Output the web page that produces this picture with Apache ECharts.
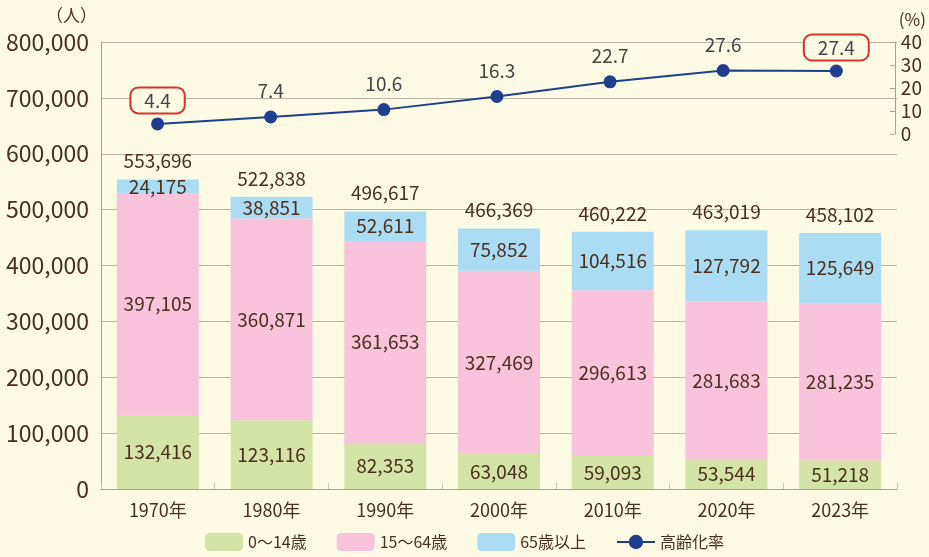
<!DOCTYPE html>
<html><head><meta charset="utf-8">
<script src="https://cdn.jsdelivr.net/npm/echarts@6/dist/echarts.min.js"></script>
<style>html,body{margin:0;padding:0;background:#fdfbe4;}#c{width:929px;height:557px;}</style>
</head><body><div id="c"></div>
<script>
const categories = ['1970年','1980年','1990年','2000年','2010年','2020年','2023年'];
const age0to14 = [132416,123116,82353,63048,59093,53544,51218];
const age15to64 = [397105,360871,361653,327469,296613,281683,281235];
const age65plus = [24175,38851,52611,75852,104516,127792,125649];
const totals = [553696,522838,496617,466369,460222,463019,458102];
const agingRate = [4.4,7.4,10.6,16.3,22.7,27.6,27.4];
const highlighted = [0,6];

const FONT = '"Noto Sans CJK JP", "Noto Sans", sans-serif';
const BROWN = '#4a2f1e';
const fmt = v => Number(v).toLocaleString('en-US');

const chart = echarts.init(document.getElementById('c'));
const lbl = {show:true, position:'inside', color:BROWN, fontSize:19, fontFamily:FONT, formatter:p=>fmt(p.value)};
chart.setOption({
  backgroundColor:'#fdfbe4',
  animation:false,
  textStyle:{fontFamily:FONT},
  grid:[
    {left:101, right:32, top:42, bottom:68},
    {left:101, right:32, top:42, height:92}
  ],
  legend:{
    data:['0～14歳','15～64歳','65歳以上','高齢化率'],
    top:528, left:'center', itemWidth:38, itemHeight:18, itemGap:30,
    textStyle:{color:BROWN, fontSize:16, fontFamily:FONT}
  },
  xAxis:[
    {type:'category', gridIndex:0, data:categories,
     axisLine:{lineStyle:{color:'#a8a390'}},
     axisTick:{show:true, inside:true, length:6, lineStyle:{color:'#c9c5b5'}},
     axisLabel:{color:BROWN, fontSize:18, margin:12, fontFamily:FONT}},
    {type:'category', gridIndex:1, data:categories, show:false}
  ],
  yAxis:[
    {type:'value', gridIndex:0, min:0, max:800000, interval:100000,
     name:'（人）', nameLocation:'end', nameGap:18,
     nameTextStyle:{color:BROWN, fontSize:17, align:'right', padding:[0,4,0,0], fontFamily:FONT},
     axisLine:{show:true, lineStyle:{color:'#a8a390'}},
     axisTick:{show:false},
     splitLine:{lineStyle:{color:'#b9b4a2', width:1}},
     axisLabel:{color:BROWN, fontSize:23, margin:12, formatter:fmt, fontFamily:FONT}},
    {type:'value', gridIndex:1, position:'right', offset:2, min:0, max:40, interval:10,
     name:'(%)', nameLocation:'end', nameGap:14,
     nameTextStyle:{color:BROWN, fontSize:17, align:'left', padding:[0,0,0,4], fontFamily:FONT},
     axisLine:{show:true, lineStyle:{color:'#a8a390'}},
     axisTick:{show:true, inside:true, length:5, lineStyle:{color:'#a8a390'}},
     splitLine:{show:false},
     axisLabel:{color:BROWN, fontSize:19, margin:6, fontFamily:FONT}}
  ],
  series:[
    {name:'0～14歳', type:'bar', stack:'p', xAxisIndex:0, yAxisIndex:0, barWidth:82,
     data:age0to14, itemStyle:{color:'#d4e3a7'}, label:lbl},
    {name:'15～64歳', type:'bar', stack:'p', xAxisIndex:0, yAxisIndex:0, barWidth:82,
     data:age15to64, itemStyle:{color:'#f8c3db'}, label:lbl},
    {name:'65歳以上', type:'bar', stack:'p', xAxisIndex:0, yAxisIndex:0, barWidth:82,
     data:age65plus, itemStyle:{color:'#abdcf3'}, label:lbl},
    {name:'total', type:'bar', stack:'p', xAxisIndex:0, yAxisIndex:0, barWidth:82,
     data:totals.map(()=>0), itemStyle:{color:'transparent'},
     label:{show:true, position:'top', distance:9, color:BROWN, fontSize:19, fontFamily:FONT,
            formatter:p=>fmt(totals[p.dataIndex])}},
    {name:'高齢化率', type:'line', xAxisIndex:1, yAxisIndex:1,
     symbol:'circle', symbolSize:13,
     lineStyle:{color:'#1f3f8e', width:2}, itemStyle:{color:'#1f3f8e'},
     data:agingRate.map((v,i)=> highlighted.includes(i) ? {
        value:v,
        label:{show:true, position:'top', distance:5, color:'#454545', fontSize:19,
               borderColor:'#d9342b', borderWidth:2, borderRadius:7,
               padding:[3,13,2,13], backgroundColor:'#fdfbe4'}
     } : v),
     label:{show:true, position:'top', distance:10, color:'#454545', fontSize:19, fontFamily:FONT,
            formatter:p=>p.value.toFixed(1)},
     z:5}
  ]
});
</script></body></html>
